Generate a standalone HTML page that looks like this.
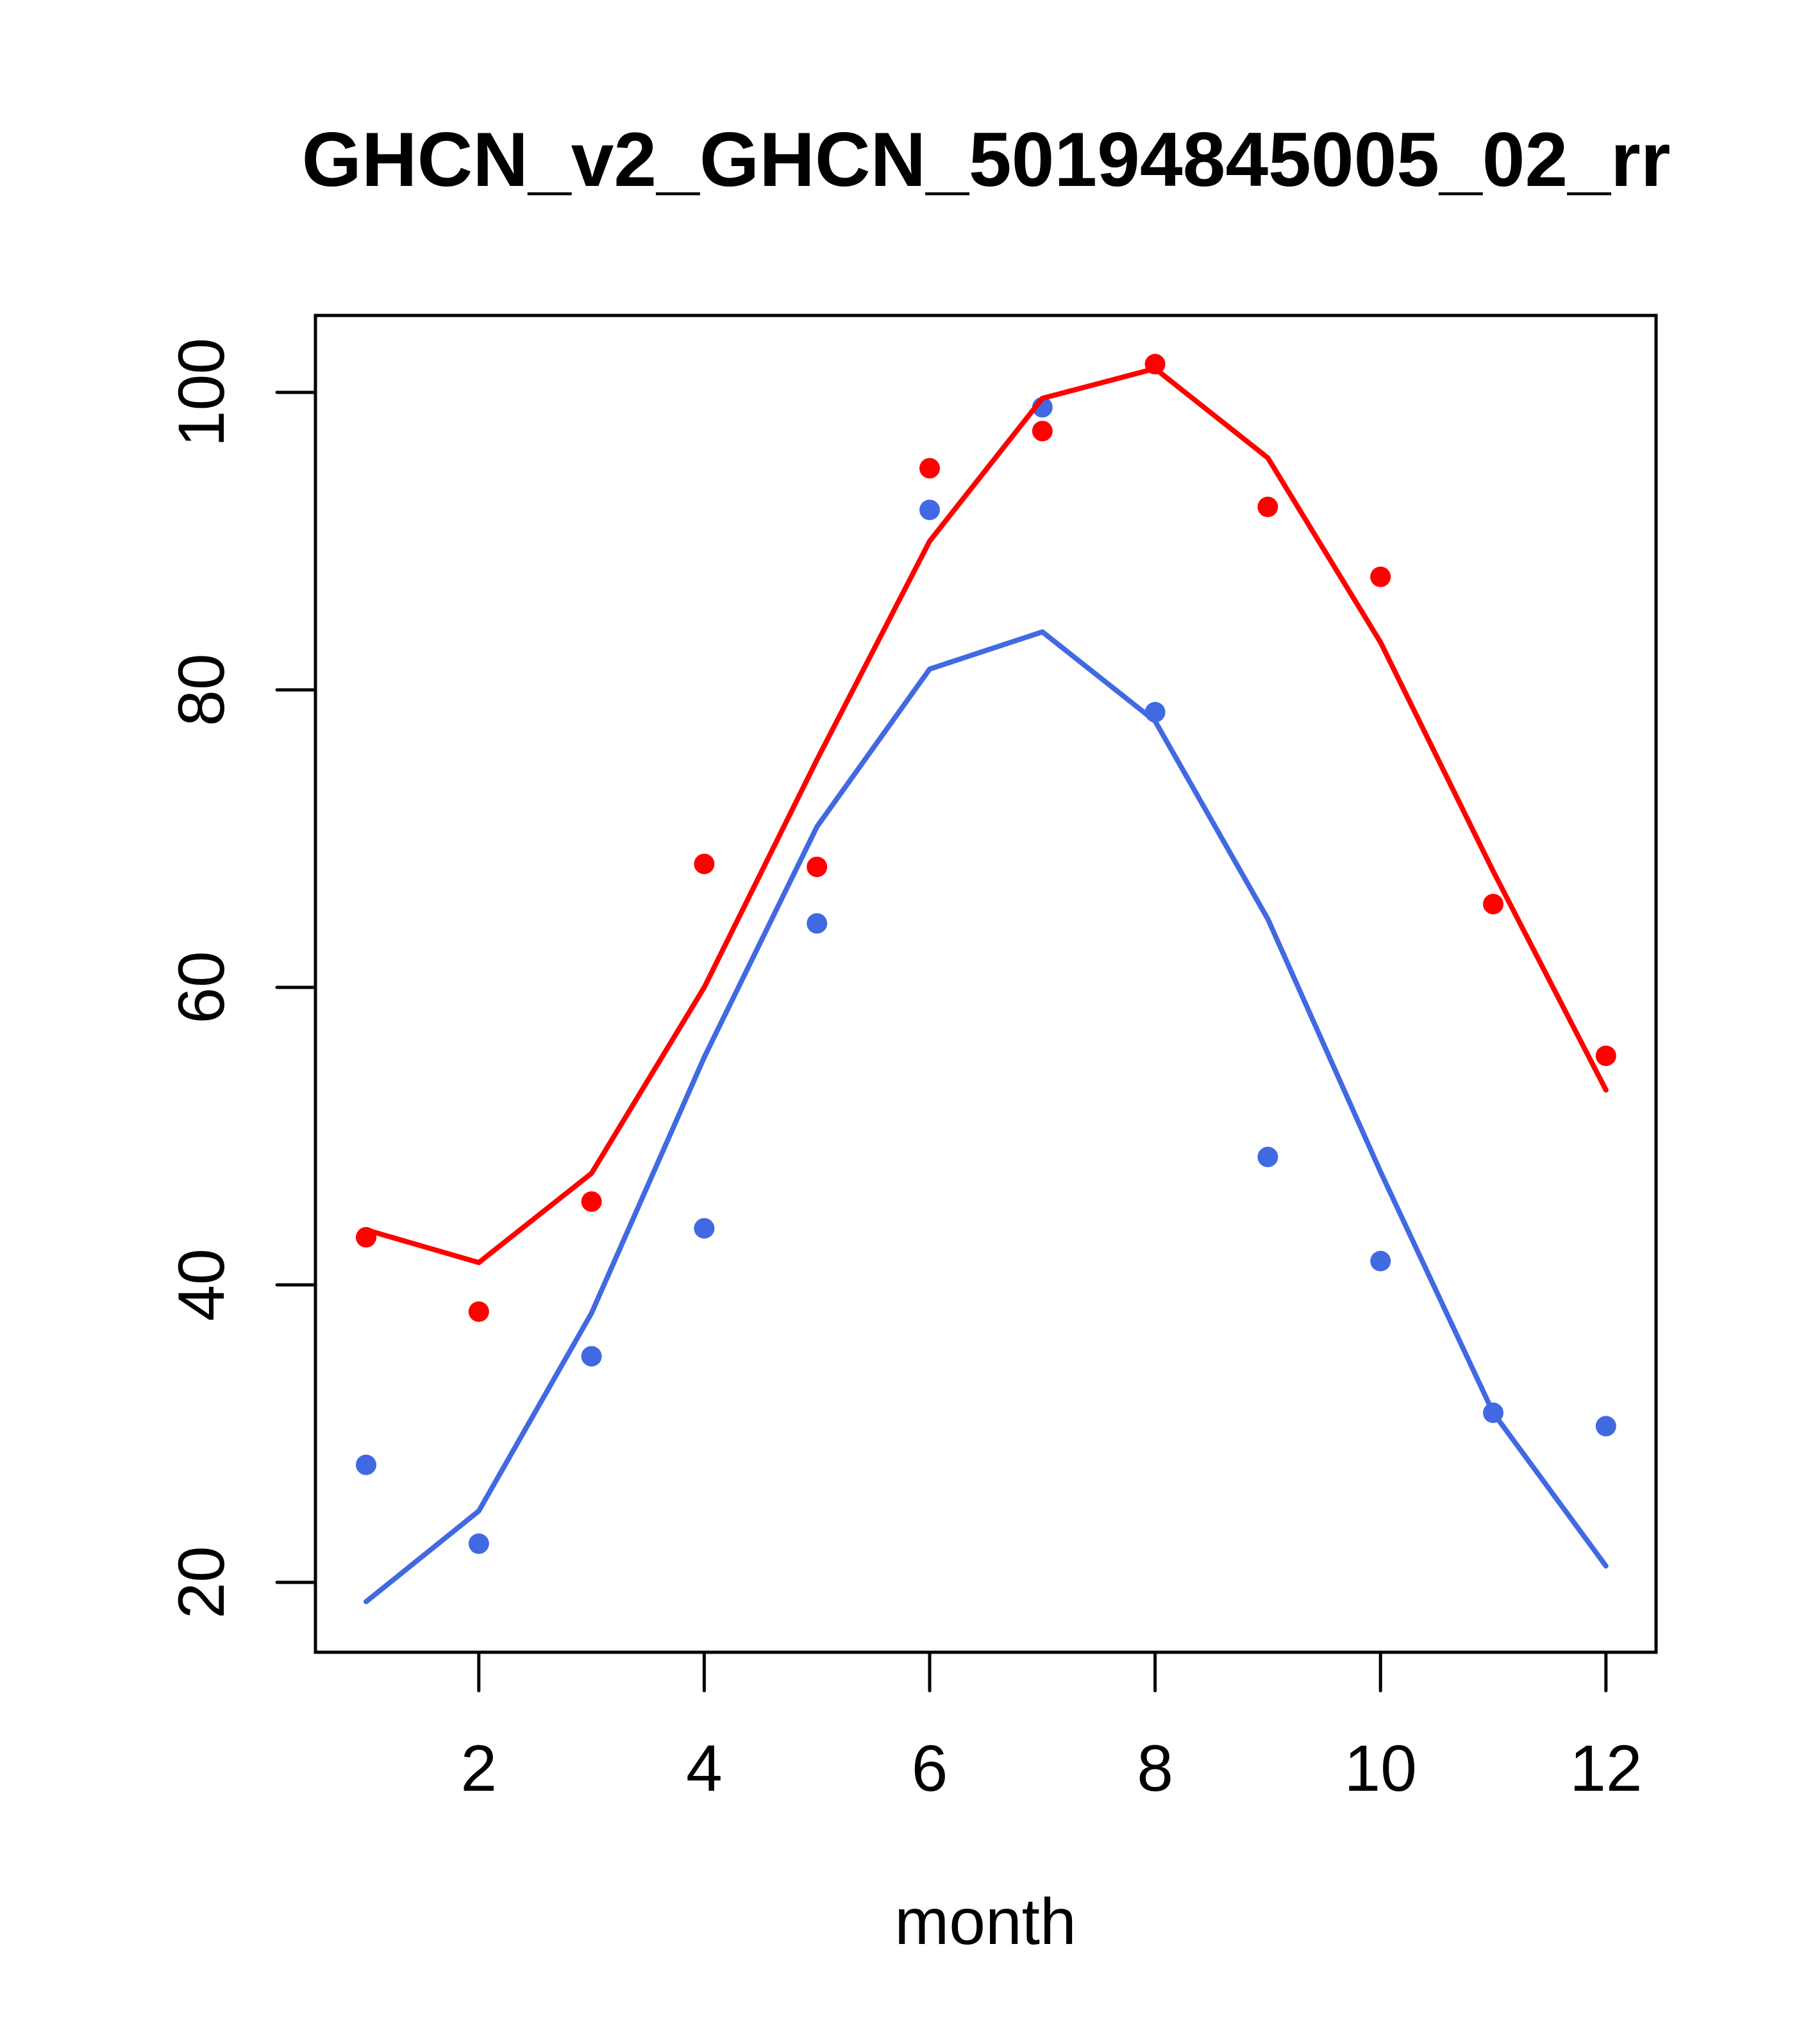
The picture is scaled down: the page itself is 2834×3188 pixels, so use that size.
<!DOCTYPE html>
<html><head><meta charset="utf-8"><style>
html,body{margin:0;padding:0;background:#fff;}
svg{display:block;}
text{font-family:"Liberation Sans",sans-serif;}
</style></head><body>
<svg id="chart" width="2834" height="3188" xmlns="http://www.w3.org/2000/svg">
<rect width="2834" height="3188" fill="#fff"/>
<text x="1538" y="290" text-anchor="middle" font-weight="bold" font-size="120">GHCN_v2_GHCN_50194845005_02_rr</text>
<text x="1537" y="3032" text-anchor="middle" font-size="102">month</text>
<g id="axes"></g>
<g id="series"></g>
<rect x="492" y="492" width="2091" height="2085" fill="none" stroke="#000" stroke-width="5"/>
</svg>
<script>
const months=[1,2,3,4,5,6,7,8,9,10,11,12];
const redLine=[43.7,41.5,47.5,60,75.3,90,99.6,101.6,95.6,83.2,67.8,53.1];
const redPoints=[43.2,38.2,45.6,68.3,68.1,94.9,97.4,101.9,92.3,87.6,65.6,55.4];
const blueLine=[18.7,24.8,38.1,55.3,70.8,81.4,83.9,77.9,64.6,47.6,31.4,21.1];
const bluePoints=[27.9,22.6,35.2,43.8,64.3,92.1,99.0,78.5,48.6,41.6,31.4,30.5];
const xTicks=[2,4,6,8,10,12];
const yTicks=[20,40,60,80,100];

const NS="http://www.w3.org/2000/svg";
function X(v){return 571+(v-1)*175.8;}
function Y(v){return 612+(100-v)*23.2;}
function mk(tag,attrs,parent){const e=document.createElementNS(NS,tag);for(const k in attrs)e.setAttribute(k,attrs[k]);parent.appendChild(e);return e;}
const axes=document.getElementById('axes');
const series=document.getElementById('series');
xTicks.forEach(t=>{
  const l=mk('line',{x1:X(t),x2:X(t),y1:2577,y2:2637,stroke:'#000','stroke-width':5,'stroke-linecap':'round'},axes);
  
  
  const tx=mk('text',{x:X(t),y:2793,'text-anchor':'middle','font-size':102},axes);
  tx.textContent=t;
  
  
});
yTicks.forEach(t=>{
  const l=mk('line',{x1:432,x2:492,y1:Y(t),y2:Y(t),stroke:'#000','stroke-width':5,'stroke-linecap':'round'},axes);
  
  
  const tx=mk('text',{x:0,y:0,'text-anchor':'middle','font-size':102,transform:'translate(349,'+Y(t)+') rotate(-90)'},axes);
  tx.textContent=t;
  
  
});
function line(vals,color,name){
  const p=mk('polyline',{points:months.map((m,i)=>X(m)+','+Y(vals[i])).join(' '),fill:'none',stroke:color,'stroke-width':8,'stroke-linecap':'round','stroke-linejoin':'round'},series);
  
  
}
function pts(vals,color,name){
  months.forEach((m,i)=>{
    const c=mk('circle',{cx:X(m),cy:Y(vals[i]),r:16,fill:color},series);
    
    
  });
}
pts(bluePoints,'#4169E1','blue-point');
pts(redPoints,'#FF0000','red-point');
line(redLine,'#FF0000','red-line');
line(blueLine,'#4169E1','blue-line');
</script>
</body></html>
